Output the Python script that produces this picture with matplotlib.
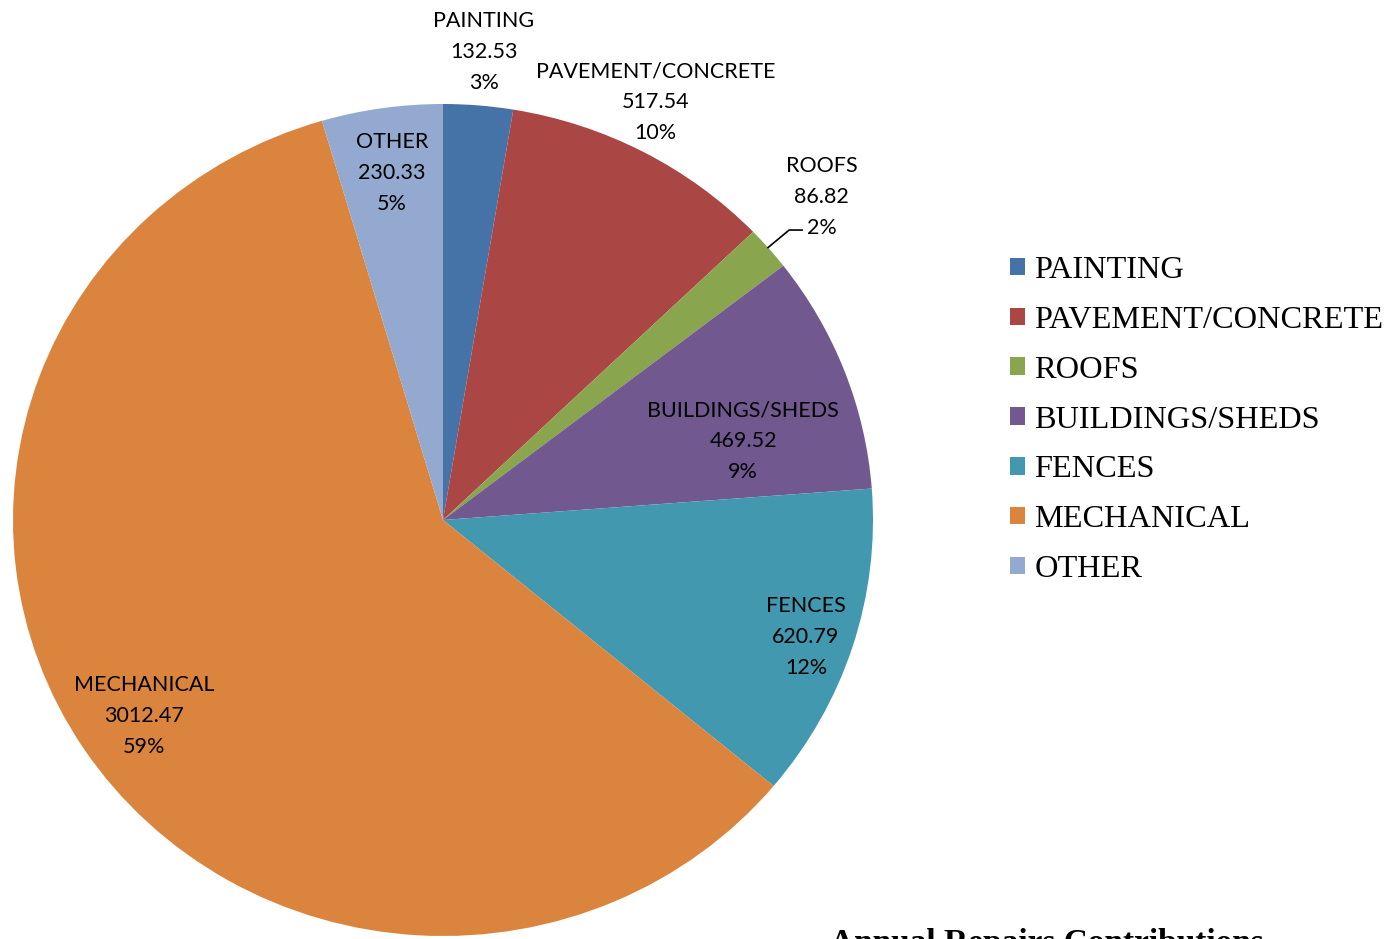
import matplotlib.pyplot as plt
from matplotlib.patches import Rectangle

# data
categories = ["PAINTING", "PAVEMENT/CONCRETE", "ROOFS", "BUILDINGS/SHEDS",
              "FENCES", "MECHANICAL", "OTHER"]
values = [132.53, 517.54, 86.82, 469.52, 620.79, 3012.47, 230.33]
colors = ["#4572A7", "#AA4643", "#89A54E", "#71588F", "#4198AF", "#DB843D", "#93A9CF"]

# label centres in pie units (x radius / y radius), Excel "best fit" style
label_xy = [(0.095, 1.125), (0.495, 1.005), (0.881, 0.776), (0.698, 0.19),
            (0.844, -0.281), (-0.695, -0.471), (-0.119, 0.834)]

W, H = 1387, 939
fig = plt.figure(figsize=(W / 100, H / 100), dpi=100)
ax = fig.add_axes([13 / W, 3 / H, 860 / W, 832 / H])

wedges, _ = ax.pie(values, colors=colors, startangle=90, counterclock=False,
                   radius=1, wedgeprops=dict(linewidth=0))
ax.set_aspect("auto")
ax.set_xlim(-1, 1)
ax.set_ylim(-1, 1)
ax.axis("off")

total = sum(values)
for name, v, (x, y) in zip(categories, values, label_xy):
    pct = round(v / total * 100)
    ax.text(x, y, f"{name}\n{v:.2f}\n{pct}%", ha="center", va="center",
            fontsize=15.5, family="Lato", linespacing=1.68, color="black",
            clip_on=False)

# leader line for ROOFS
ax.plot([0.756, 0.805, 0.835], [0.655, 0.697, 0.697], color="black", lw=1.2,
        clip_on=False)

# legend
handles = [Rectangle((0, 0), 1, 1, facecolor=c, edgecolor="none") for c in colors]
fig.legend(handles, categories, loc="upper left",
           bbox_to_anchor=(997 / W, 1 - 243 / H), frameon=False,
           prop=dict(family="Liberation Serif", size=23.3),
           handlelength=0.45, handleheight=0.45, handletextpad=0.3,
           labelspacing=0.645, borderaxespad=0)

fig.text(830 / W, 11 / H, "Annual Repairs Contributions", ha="left", va="top",
         family="Liberation Serif", fontsize=24, fontweight="bold")

fig.savefig("out.png", dpi=100)
